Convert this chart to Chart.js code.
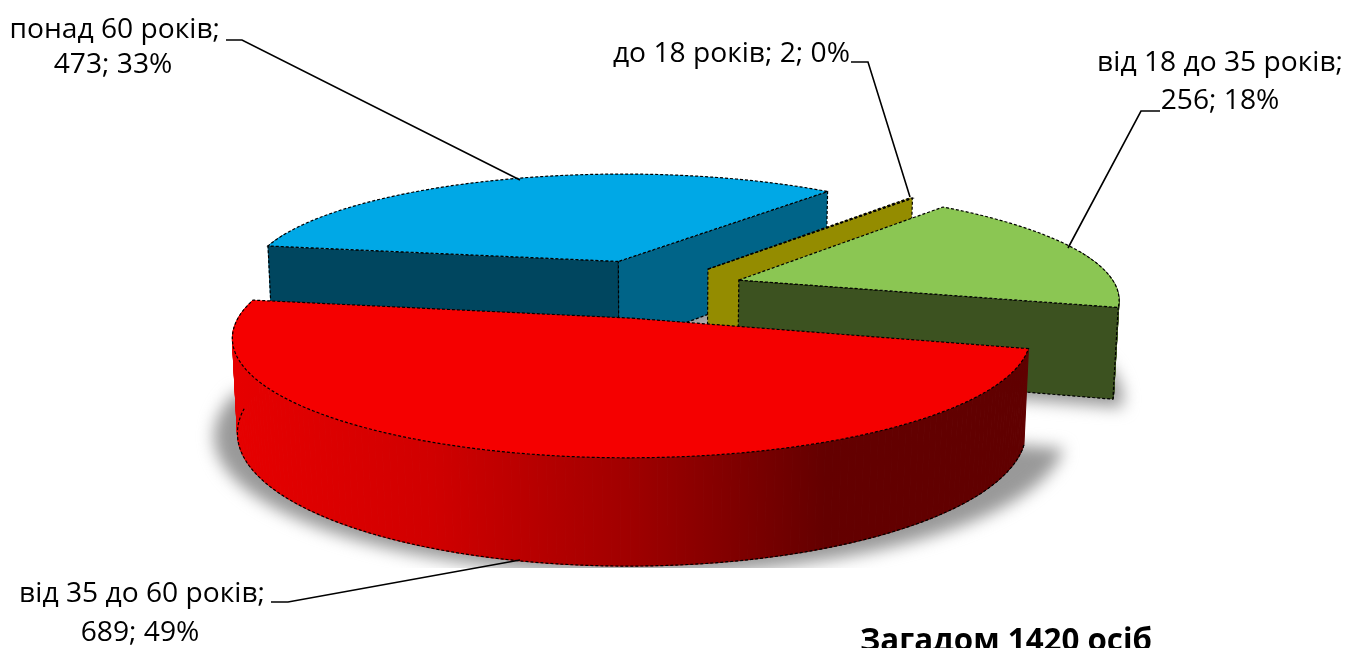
<!DOCTYPE html>
<html>
<head>
<meta charset="utf-8">
<style>
html, body { margin: 0; background: #fff; overflow: hidden; }
canvas { display: block; }
</style>
<script src="https://cdn.jsdelivr.net/npm/chart.js@4"></script>
</head>
<body>
<canvas id="pie" width="1348" height="648"></canvas>
<script>
// Chart data
const categories = ['до 18 років', 'від 18 до 35 років', 'від 35 до 60 років', 'понад 60 років'];
const values = [2, 256, 689, 473];
const totalLabel = 'Загадом 1420 осіб';

// Slice styles
const topColors = ['#948c00', '#8bc653', '#f50000', '#00a8e6'];
const startWallColors = ['#948c00', '#3c5220', '#600000', '#00465f'];
const endWallColors = ['#948c00', '#3c5220', '#600000', '#006488'];
const explode = [66, 68, 78, 78];
const drawOrder = [3, 0, 1, 2];

// Fake 3D camera, lengths are in pie radii
const cam = { x: 654, y: 288, scale: 378, elev: 0.29, dist: 6.3, height: 0.25 };

// Label text placement: line 1 anchor, line 2 anchor, leader line
const labelSpots = [
    { x: 850, y: 54, x2: 0, y2: 0, line: [[851, 62], [868, 62], [910, 197]] },
    { x: 1343, y: 63, x2: 1220, y2: 101, line: [[1160, 111], [1141, 111], [1068, 248]] },
    { x: 265, y: 594, x2: 140, y2: 633, line: [[271, 602], [288, 602], [520, 560]] },
    { x: 220, y: 30, x2: 113, y2: 65, line: [[226, 40], [242, 40], [520, 180]] }
];

function project(u, v, h) {
    const c = Math.cos(cam.elev), s = Math.sin(cam.elev);
    const p = cam.dist / (cam.dist - v * c - h * s);
    return {
        x: cam.x + cam.scale * u * p,
        y: cam.y + cam.scale * (v * s - h * c) * p
    };
}

// Turn an arc element from Chart.js into outline points in pie radii
function sliceShape(chart, arc) {
    const props = arc.getProps(['startAngle', 'endAngle', 'outerRadius']);
    const mid = (props.startAngle + props.endAngle) / 2;
    const off = arc.options.offset / props.outerRadius;
    const ax = off * Math.cos(mid), ay = off * Math.sin(mid);
    const rim = [];
    const steps = Math.max(2, Math.ceil((props.endAngle - props.startAngle) / 0.02));
    for (let i = 0; i <= steps; i++) {
        const a = props.startAngle + (props.endAngle - props.startAngle) * i / steps;
        rim.push({ a: a, u: ax + Math.cos(a), v: ay + Math.sin(a) });
    }
    return { apex: { u: ax, v: ay }, rim: rim };
}

function tracePoly(ctx, pts) {
    ctx.beginPath();
    pts.forEach((p, i) => i ? ctx.lineTo(p.x, p.y) : ctx.moveTo(p.x, p.y));
    ctx.closePath();
}

function dashed(ctx) {
    ctx.strokeStyle = '#000';
    ctx.lineWidth = 1.2;
    ctx.setLineDash([3, 2]);
    ctx.stroke();
    ctx.setLineDash([]);
}

function paint(ctx, pts, fill) {
    tracePoly(ctx, pts);
    ctx.fillStyle = fill;
    ctx.fill();
    dashed(ctx);
}

function drawShadow(ctx, shape) {
    const bottom = [shape.apex].concat(shape.rim).map(p => project(p.u, p.v, -cam.height));
    const mx = bottom.reduce((t, p) => t + p.x, 0) / bottom.length;
    const my = bottom.reduce((t, p) => t + p.y, 0) / bottom.length;
    const grown = bottom.map(p => ({ x: mx + (p.x - mx) * 1.08 + 4, y: my + (p.y - my) * 1.04 + 6 }));
    ctx.save();
    ctx.beginPath();
    ctx.rect(0, 0, 1348, 568);
    ctx.clip();
    ctx.filter = 'blur(8px)';
    tracePoly(ctx, grown);
    ctx.fillStyle = '#999999';
    ctx.fill();
    ctx.restore();
}

function drawRim(ctx, shape, i) {
    const h = cam.height;
    const front = shape.rim.filter(p => Math.sin(p.a) > -0.3);
    if (front.length < 2) return;
    let side = endWallColors[i];
    if (categories[i] === 'від 35 до 60 років') {
        side = ctx.createLinearGradient(238, 0, 1020, 0);
        side.addColorStop(0, '#e60000');
        side.addColorStop(0.25, '#d00000');
        side.addColorStop(0.5, '#a00000');
        side.addColorStop(0.75, '#640000');
        side.addColorStop(1, '#600000');
    }
    // Small quads, one polygon would fold over itself at the silhouette
    ctx.fillStyle = side;
    ctx.strokeStyle = side;
    ctx.lineWidth = 1;
    for (let k = 0; k + 1 < front.length; k++) {
        const p = front[k], q = front[k + 1];
        tracePoly(ctx, [project(p.u, p.v, 0), project(q.u, q.v, 0), project(q.u, q.v, -h), project(p.u, p.v, -h)]);
        ctx.fill();
        ctx.stroke();
    }
    // Bottom edge stops at the silhouette
    ctx.beginPath();
    front.filter(p => Math.sin(p.a) > -0.02).forEach((p, k) => {
        const pt = project(p.u, p.v, -h);
        k ? ctx.lineTo(pt.x, pt.y) : ctx.moveTo(pt.x, pt.y);
    });
    dashed(ctx);
}

function drawSlice(ctx, shape, i, fill) {
    const h = cam.height;
    const apexTop = project(shape.apex.u, shape.apex.v, 0);
    const apexLow = project(shape.apex.u, shape.apex.v, -h);
    const first = shape.rim[0], last = shape.rim[shape.rim.length - 1];

    drawRim(ctx, shape, i);

    // Flat cut walls, skip the ones turned away from the camera
    if (Math.cos(first.a) < 0) {
        paint(ctx, [apexTop, project(first.u, first.v, 0), project(first.u, first.v, -h), apexLow], startWallColors[i]);
    }
    if (Math.cos(last.a) > 0) {
        paint(ctx, [apexTop, project(last.u, last.v, 0), project(last.u, last.v, -h), apexLow], endWallColors[i]);
    }

    const top = [apexTop].concat(shape.rim.map(p => project(p.u, p.v, 0)));
    paint(ctx, top, fill);
}

const pie3d = {
    id: 'pie3d',
    beforeDatasetsDraw(chart) {
        const ctx = chart.ctx;
        const arcs = chart.getDatasetMeta(0).data;
        const shapes = arcs.map(arc => sliceShape(chart, arc));
        drawOrder.forEach(i => drawShadow(ctx, shapes[i]));
        drawOrder.forEach(i => drawSlice(ctx, shapes[i], i, arcs[i].options.backgroundColor));
        return false;
    },
    afterDraw(chart) {
        const ctx = chart.ctx;
        const total = values.reduce((a, b) => a + b, 0);
        ctx.save();
        ctx.fillStyle = '#000';
        ctx.textBaseline = 'middle';
        ctx.font = '28.2px "Open Sans"';
        categories.forEach((name, i) => {
            const spot = labelSpots[i];
            const pct = Math.round(values[i] / total * 100);
            const tail = values[i] + '; ' + pct + '%';
            if (spot.x2) {
                ctx.textAlign = 'right';
                ctx.fillText(name + ';', spot.x, spot.y);
                ctx.textAlign = 'center';
                ctx.fillText(tail, spot.x2, spot.y2);
            } else {
                ctx.textAlign = 'right';
                ctx.fillText(name + '; ' + tail, spot.x, spot.y);
            }
            ctx.beginPath();
            spot.line.forEach((p, k) => k ? ctx.lineTo(p[0], p[1]) : ctx.moveTo(p[0], p[1]));
            ctx.strokeStyle = '#000';
            ctx.lineWidth = 1.6;
            ctx.stroke();
        });
        ctx.textAlign = 'left';
        ctx.textBaseline = 'alphabetic';
        ctx.font = 'bold 31.3px "Open Sans"';
        ctx.fillText(totalLabel, 860, 651);
        ctx.restore();
    }
};

new Chart(document.getElementById('pie'), {
    type: 'pie',
    data: {
        labels: categories,
        datasets: [{
            data: values,
            backgroundColor: topColors,
            offset: explode,
            borderWidth: 0
        }]
    },
    options: {
        responsive: false,
        animation: false,
        rotation: 39,
        plugins: {
            legend: { display: false },
            tooltip: { enabled: false }
        }
    },
    plugins: [pie3d]
});
</script>
</body>
</html>
